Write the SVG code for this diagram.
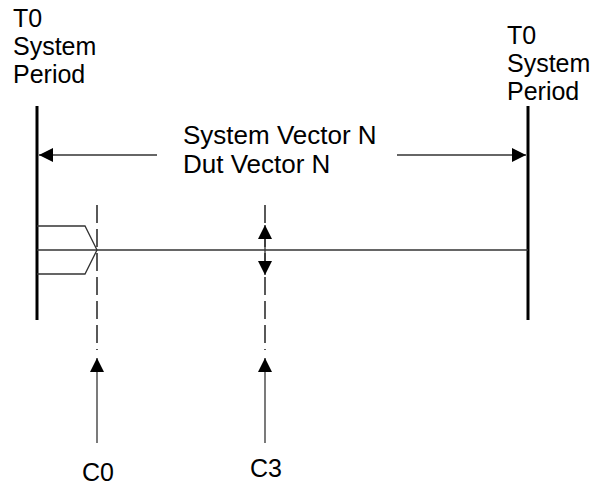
<svg xmlns="http://www.w3.org/2000/svg" width="610" height="486" viewBox="0 0 610 486">
<defs>
<style>
text{font-family:"Liberation Sans",Arial,sans-serif;font-size:25px;fill:#000}
.big{font-size:26px}
.bar{stroke:#000;stroke-width:3;fill:none}
.thin{stroke:#333;stroke-width:1.3;fill:none}
.dash{stroke:#000;stroke-width:1.3;fill:none;stroke-dasharray:18 6}
</style>
<marker id="ahb" viewBox="0 0 10 10" refX="10" refY="5" markerWidth="14" markerHeight="14" markerUnits="userSpaceOnUse" orient="auto-start-reverse"><path d="M0,0 L10,5 L0,10 z" fill="#000"/></marker>
</defs>
<g id="left-period">
<line class="bar" x1="37" y1="106" x2="37" y2="320"/>
<text x="13" y="27">T0</text>
<text x="13" y="55">System</text>
<text x="13" y="83">Period</text>
</g>
<g id="right-period">
<line class="bar" x1="528" y1="106" x2="528" y2="320"/>
<text x="507" y="44">T0</text>
<text x="507" y="72">System</text>
<text x="507" y="100">Period</text>
</g>
<g id="vector-label">
<text class="big" x="183" y="144">System Vector N</text>
<text class="big" x="183" y="173">Dut Vector N</text>
</g>
<g id="waveform">
<line class="thin" x1="37" y1="250" x2="528" y2="250"/>
<path class="thin" d="M37,226 H85 L97,250 L85,274 H37"/>
</g>
<g id="c0">
<line class="dash" x1="97" y1="205" x2="97" y2="350"/>
<text x="98" y="481" text-anchor="middle">C0</text>
</g>
<g id="c3">
<line class="dash" x1="265" y1="205" x2="265" y2="350"/>
<text x="266" y="477" text-anchor="middle">C3</text>
</g>
<g id="connectors">
<line class="thin" x1="157" y1="155" x2="39" y2="155" marker-end="url(#ahb)"/>
<line class="thin" x1="397" y1="155" x2="526" y2="155" marker-end="url(#ahb)"/>
<line class="thin" x1="265" y1="250" x2="265" y2="225" marker-end="url(#ahb)"/>
<line class="thin" x1="265" y1="250" x2="265" y2="275" marker-end="url(#ahb)"/>
<line class="thin" x1="97" y1="443" x2="97" y2="358" marker-end="url(#ahb)"/>
<line class="thin" x1="265" y1="443" x2="265" y2="358" marker-end="url(#ahb)"/>
</g>
</svg>
